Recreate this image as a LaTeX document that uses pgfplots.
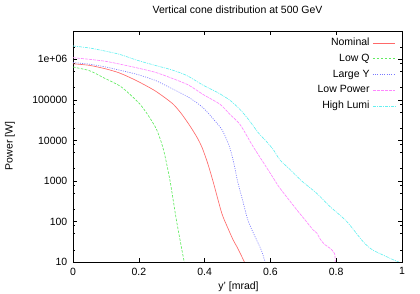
\documentclass[border=0pt]{standalone}
\usepackage{fontspec}
\setmainfont{Liberation Sans}
\usepackage{pgfplots}
\pgfplotsset{compat=1.18}
\definecolor{cred}{RGB}{255,105,105}
\definecolor{cgreen}{RGB}{95,235,95}
\definecolor{cblue}{RGB}{120,120,255}
\definecolor{cmag}{RGB}{255,135,255}
\definecolor{ccyan}{RGB}{100,240,240}
\begin{document}
\fontsize{10.5bp}{12.6bp}\selectfont
\begin{tikzpicture}
\begin{axis}[
  name=ax, at={(0,0)}, anchor=south west,
  scale only axis, width=329bp, height=231bp,
  xmin=0, xmax=1, ymode=log, ymin=10, ymax=5e6,
  log basis y=10,
  xtick={0,0.2,0.4,0.6,0.8,1},
  xticklabels={0,0.2,0.4,0.6,0.8,1},
  ytick={10,100,1000,10000,100000,1000000},
  yticklabels={10,100,1000,10000,100000,1e+06},
  minor ytick={20,50,80,200,500,800,2000,5000,8000,20000,50000,80000,200000,500000,800000,2000000},
  tick pos=both, tick align=inside,
  major tick length=4bp, minor tick length=2bp,
  every tick/.style={black, line width=0.5bp},
  axis line style={line width=0.8bp},
  /pgf/number format/assume math mode=true,
  ticklabel style={font=\fontsize{10.5bp}{12.6bp}\selectfont},
  yticklabel style={xshift=-2bp},
  xticklabel style={yshift=-2bp},
  title={Vertical cone distribution at 500 GeV},
  title style={at={(axis description cs:0.5,1.052)}, anchor=base, inner sep=0pt},
  xlabel={y' [mrad]},
  xlabel style={at={(axis description cs:0.503,-0.121)}, anchor=base, inner sep=0pt},
  ylabel={Power [W]},
  ylabel style={at={(axis description cs:-0.1915,0.502)}, anchor=center, inner sep=0pt},
  legend plot pos=right,
  legend cell align=right,
  legend style={at={(axis description cs:1,1)}, anchor=north east, xshift=-6bp, yshift=-4bp,
    draw=none, fill=none, inner sep=0pt, row sep=0pt,
    nodes={inner xsep=3bp, inner ysep=2.6bp, text height=8bp, text depth=2.5bp}},
  legend image code/.code={\draw[#1] (0bp,0bp) -- (22.6bp,0bp);},
  every axis plot/.append style={line width=0.65bp, smooth, tension=0.45},
]
\addplot[cred] coordinates {
(0,776000) (0.05,710000) (0.1,580000) (0.143,455000) (0.194,295000) (0.244,178000)
(0.275,120000) (0.305,77600) (0.33,45000) (0.356,22400) (0.378,11500) (0.393,6460)
(0.41,2630) (0.427,891) (0.452,162) (0.47,70.8) (0.487,34.7) (0.50,22.4) (0.521,10)};
\addlegendentry{Nominal}
\addplot[cgreen, dash pattern=on 2.5bp off 1.5bp] coordinates {
(0,646000) (0.05,525000) (0.092,355000) (0.143,219000) (0.175,132000) (0.204,77600)
(0.228,42000) (0.254,18600) (0.275,5900) (0.295,1000) (0.315,100) (0.338,10)};
\addlegendentry{Low Q}
\addplot[cblue, dash pattern=on 1bp off 1.3bp] coordinates {
(0,832000) (0.05,759000) (0.1,646000) (0.143,537000) (0.194,427000) (0.25,302000)
(0.295,200000) (0.35,117500) (0.396,63100) (0.447,21400) (0.462,13000) (0.477,6460)
(0.49,2500) (0.50,1000) (0.517,300) (0.533,100) (0.558,35) (0.572,20) (0.584,10)};
\addlegendentry{Large Y}
\addplot[cmag, dash pattern=on 3bp off 1bp] coordinates {
(0,1096000) (0.05,1000000) (0.1,891000) (0.143,759000) (0.194,617000) (0.25,479000)
(0.295,355000) (0.35,234000) (0.396,135000) (0.447,77600) (0.477,43700) (0.508,24500)
(0.545,7590) (0.575,3160) (0.609,1175) (0.629,661) (0.68,195) (0.705,110)
(0.73,61.7) (0.741,52) (0.752,36) (0.765,27) (0.781,21.9) (0.795,16.2) (0.797,10)};
\addlegendentry{Low Power}
\addplot[ccyan, dash pattern=on 3bp off 1bp on 1bp off 1bp] coordinates {
(0,2138000) (0.05,1905000) (0.1,1585000) (0.143,1318000) (0.194,955000) (0.25,708000)
(0.3,550000) (0.346,398000) (0.396,229000) (0.44,151000) (0.477,97700) (0.508,57500)
(0.535,31600) (0.563,15500) (0.585,10000) (0.609,5890) (0.629,3300) (0.66,1900)
(0.695,1000) (0.74,501) (0.781,234) (0.832,100) (0.882,31.6) (0.91,20) (0.943,14.8)
(0.97,11.7) (0.99,10)};
\addlegendentry{High Lumi}
\end{axis}
\pgfresetboundingbox
\path[use as bounding box] (-73bp,-32bp) rectangle (347bp,262bp);
\end{tikzpicture}
\end{document}
